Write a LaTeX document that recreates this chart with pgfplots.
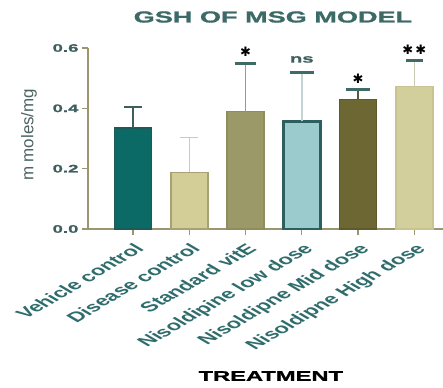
\documentclass[border=0pt]{standalone}
\usepackage{pgfplots}
\pgfplotsset{compat=1.18}
\usepackage{fontspec}
\setmainfont{Liberation Sans}
\newfontfamily\wide[FakeStretch=1.7, BoldFeatures={FakeBold=1.2}]{Liberation Sans}
\newfontfamily\symf{DejaVu Sans}

\definecolor{axiscol}{HTML}{9C9670}
\definecolor{titlecol}{HTML}{3C6A67}
\definecolor{ytickcol}{HTML}{3F5F5F}
\definecolor{xtickcol}{HTML}{2F6C6C}
\definecolor{ylabcol}{HTML}{4A6462}
\definecolor{capcol}{HTML}{3E6B67}

\definecolor{vehfill}{HTML}{0B6966}\definecolor{vehdraw}{HTML}{1E5A57}\definecolor{veherr}{HTML}{3D5E5A}
\definecolor{disfill}{HTML}{D3CD98}\definecolor{disdraw}{HTML}{A6A273}\definecolor{diserr}{HTML}{C9C9BC}
\definecolor{vitfill}{HTML}{9B9968}\definecolor{vitdraw}{HTML}{8F8D5E}\definecolor{viterr}{HTML}{9A9A7E}
\definecolor{lowfill}{HTML}{9CCBCE}\definecolor{lowdraw}{HTML}{2E5F5F}\definecolor{lowerr}{HTML}{C2D3D3}
\definecolor{midfill}{HTML}{6D6733}\definecolor{middraw}{HTML}{5F5A2C}\definecolor{miderr}{HTML}{5E5A2C}
\definecolor{highfill}{HTML}{D3CF9D}\definecolor{highdraw}{HTML}{C8C492}\definecolor{higherr}{HTML}{C9C8B0}

\begin{document}
\begin{tikzpicture}
\path[use as bounding box] (0,0) rectangle (443bp,388bp);
\begin{axis}[
  at={(88bp,159bp)}, anchor=south west,
  width=355bp, height=181bp, scale only axis,
  ybar, bar width=37bp, bar shift=0pt,
  xmin=-0.8, xmax=5.51, ymin=0, ymax=0.6,
  axis x line=bottom, axis y line=left,
  axis line style={-, draw=axiscol, line width=1.6bp},
  tick style={draw=axiscol, line width=1.4bp},
  major tick length=6bp, tick align=outside,
  xtick={0,1,2,3,4,5},
  xticklabels={Vehicle control, Disease control, Standard vitE, Nisoldipine low dose, Nisoldipne Mid dose, Nisoldipne High dose},
  xticklabel shift=6bp,
  xticklabel style={font=\bfseries\fontsize{14}{14}\selectfont, text=xtickcol, xscale=1.7, rotate=45, anchor=north east, inner sep=1bp},
  ytick={0,0.2,0.4,0.6},
  /pgf/number format/assume math mode=true,
  yticklabel style={font=\wide\bfseries\fontsize{11}{11}\selectfont, text=ytickcol,
    /pgf/number format/fixed, /pgf/number format/fixed zerofill, /pgf/number format/precision=1},
  ylabel={m moles/mg},
  every axis y label/.style={at={(axis description cs:-0.166,0.52)}, rotate=90, anchor=center,
    font=\fontsize{17}{17}\selectfont, text=ylabcol},
  xlabel={TREATMENT},
  every axis x label/.style={at={(axis description cs:0.515,0)}, anchor=center, yshift=-147bp,
    font=\wide\bfseries\fontsize{14}{14}\selectfont, text=black},
  title={GSH OF MSG MODEL},
  every axis title/.style={at={(axis description cs:0.521,1)}, anchor=center, yshift=31bp,
    font=\wide\bfseries\fontsize{16}{16}\selectfont, text=titlecol},
  error bars/y dir=plus, error bars/y explicit,
  clip=false,
]
% Vehicle control
\addplot[fill=vehfill, draw=vehdraw, line width=1.5bp,
  error bars/error bar style={draw=veherr, line width=1.5bp},
  error bars/error mark options={rotate=90, draw=veherr, line width=1.5bp, mark size=9bp}]
  coordinates {(0,0.334) +- (0,0.071)};
% Disease control
\addplot[fill=disfill, draw=disdraw, line width=1.5bp,
  error bars/error bar style={draw=diserr, line width=1.5bp},
  error bars/error mark options={rotate=90, draw=diserr, line width=1.5bp, mark size=9bp}]
  coordinates {(1,0.188) +- (0,0.115)};
% Standard vitamin E
\addplot[fill=vitfill, draw=vitdraw, line width=1.5bp,
  error bars/error bar style={draw=viterr, line width=1.6bp},
  error bars/error mark options={rotate=90, draw=capcol, line width=3bp, mark size=10.5bp}]
  coordinates {(2,0.389) +- (0,0.161)};
% Nisoldipine low dose
\addplot[fill=lowfill, draw=lowdraw, line width=2.6bp,
  error bars/error bar style={draw=lowerr, line width=1.8bp},
  error bars/error mark options={rotate=90, draw=capcol, line width=3bp, mark size=12bp}]
  coordinates {(3,0.357) +- (0,0.161)};
% Nisoldipine mid dose
\addplot[fill=midfill, draw=middraw, line width=1.5bp,
  error bars/error bar style={draw=miderr, line width=1.6bp},
  error bars/error mark options={rotate=90, draw=capcol, line width=3bp, mark size=12bp}]
  coordinates {(4,0.430) +- (0,0.031)};
% Nisoldipine high dose
\addplot[fill=highfill, draw=highdraw, line width=1.5bp,
  error bars/error bar style={draw=higherr, line width=1.6bp},
  error bars/error mark options={rotate=90, draw=capcol, line width=3bp, mark size=8.5bp}]
  coordinates {(5,0.472) +- (0,0.085)};
% significance marks
\node[font=\symf\fontsize{13}{13}\selectfont] at (axis cs:2,0.587) {✱};
\node[font=\wide\bfseries\fontsize{12}{12}\selectfont, text=ytickcol] at (axis cs:3,0.562) {ns};
\node[font=\symf\fontsize{13}{13}\selectfont] at (axis cs:4,0.497) {✱};
\node[font=\symf\fontsize{13}{13}\selectfont] at (axis cs:5,0.593) {✱\,✱};
\end{axis}
\end{tikzpicture}
\end{document}
